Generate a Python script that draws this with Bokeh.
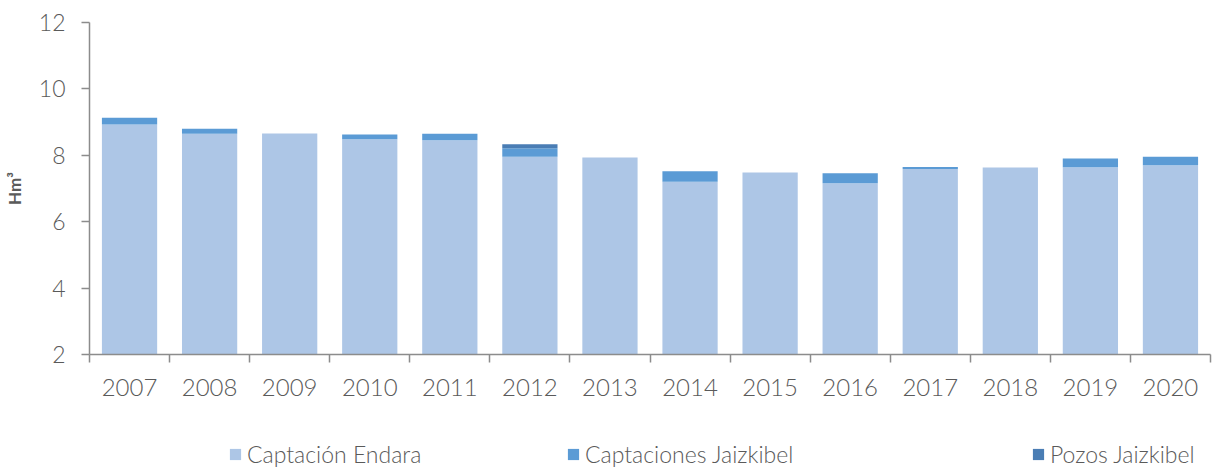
from bokeh.plotting import figure
from bokeh.layouts import column
from bokeh.models import FixedTicker, Legend, LegendItem, ColumnDataSource, Range1d
from bokeh.embed import file_html
from bokeh.resources import INLINE

years = ["2007", "2008", "2009", "2010", "2011", "2012", "2013",
         "2014", "2015", "2016", "2017", "2018", "2019", "2020"]
endara = [8.93, 8.65, 8.66, 8.48, 8.45, 7.96, 7.93, 7.20, 7.48, 7.16, 7.59, 7.63, 7.64, 7.70]
jaizkibel = [0.20, 0.15, 0.0, 0.15, 0.20, 0.25, 0.0, 0.32, 0.0, 0.30, 0.06, 0.0, 0.26, 0.26]
pozos = [0.0, 0.0, 0.0, 0.0, 0.0, 0.12, 0.0, 0.0, 0.0, 0.0, 0.0, 0.0, 0.0, 0.0]
series_names = ["Captación Endara", "Captaciones Jaizkibel", "Pozos Jaizkibel"]
colors = ["#adc6e6", "#5b9bd5", "#4a7db4"]

FONT = "Lato Light"
GRAY = "#5a5a5a"
AXIS = "#8c8c8c"

xs = [i + 0.5 for i in range(len(years))]
src = ColumnDataSource(dict(x=xs, endara=endara, jaizkibel=jaizkibel, pozos=pozos))

p = figure(width=1215, height=404, output_backend="svg", toolbar_location=None,
           x_range=Range1d(0, len(years)), y_range=Range1d(2, 12),
           min_border_left=82, min_border_right=5, min_border_top=22,
           min_border_bottom=50)
p.outline_line_color = None
p.xgrid.visible = False
p.ygrid.visible = False

rs = p.vbar_stack(["endara", "jaizkibel", "pozos"], x="x", width=0.69,
                  color=colors, line_color=None, source=src)

# x axis: ticks at category boundaries (minor), labels at centers (major)
p.xaxis.ticker = FixedTicker(ticks=xs, minor_ticks=list(range(len(years) + 1)))
p.xaxis.major_label_overrides = {x: y for x, y in zip(xs, years)}
p.xaxis.major_tick_line_color = None
p.xaxis.minor_tick_line_color = AXIS
p.xaxis.minor_tick_line_width = 1.5
p.xaxis.minor_tick_out = 8
p.xaxis.minor_tick_in = 0
p.xaxis.axis_line_color = AXIS
p.xaxis.axis_line_width = 1.5
p.xaxis.major_label_text_font = FONT
p.xaxis.major_label_text_font_size = "24px"
p.xaxis.major_label_text_color = GRAY
p.xaxis.major_label_standoff = 16

p.yaxis.ticker = FixedTicker(ticks=[2, 4, 6, 8, 10, 12], minor_ticks=[])
p.yaxis.major_tick_line_color = AXIS
p.yaxis.major_tick_line_width = 1.5
p.yaxis.major_tick_out = 8
p.yaxis.major_tick_in = 0
p.yaxis.axis_line_color = AXIS
p.yaxis.axis_line_width = 1.5
p.yaxis.major_label_text_font = FONT
p.yaxis.major_label_text_font_size = "23px"
p.yaxis.major_label_text_color = GRAY
p.yaxis.major_label_standoff = 16
p.yaxis.axis_label = "Hm³"
p.yaxis.axis_label_text_font = "Lato"
p.yaxis.axis_label_text_font_size = "17px"
p.yaxis.axis_label_text_font_style = "bold"
p.yaxis.axis_label_text_color = GRAY
p.yaxis.axis_label_standoff = 11

# legend strip below the chart (frame is aligned with the chart frame)
lp = figure(width=1215, height=64, output_backend="svg", toolbar_location=None,
            x_range=Range1d(0, 1), y_range=Range1d(0, 1),
            x_axis_type=None, y_axis_type=None, min_border=0)
lp.outline_line_color = None
lp.xgrid.visible = False
lp.ygrid.visible = False

legend_x = [139, 477, 942]
for c, name, lx in zip(colors, series_names, legend_x):
    swatch = lp.vbar(x=[-5], top=[-5], width=0.5, color=c, line_color=None)
    lg = Legend(items=[LegendItem(label=name, renderers=[swatch])], location=(lx, 0),
                orientation="horizontal", padding=0, margin=0, spacing=0,
                border_line_color=None, background_fill_alpha=0,
                glyph_width=14, glyph_height=14, label_standoff=5,
                label_text_font=FONT, label_text_font_size="23px",
                label_text_color=GRAY)
    lp.add_layout(lg, "center")

layout = column(p, lp, spacing=0)
open("out.html", "w").write(file_html(layout, INLINE))
